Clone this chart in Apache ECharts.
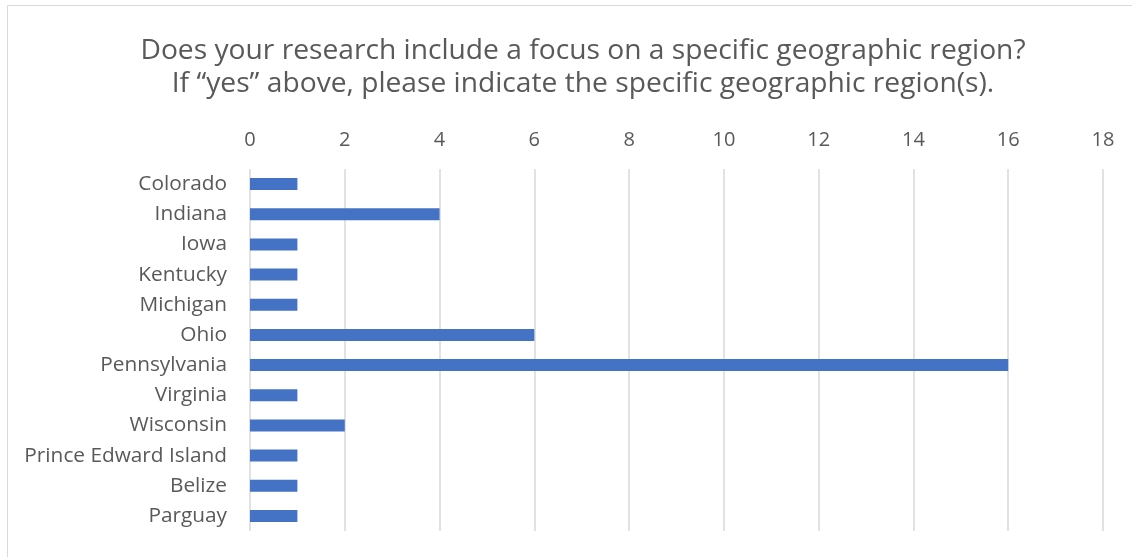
<!DOCTYPE html>
<html><head><meta charset="utf-8">
<script src="https://cdn.jsdelivr.net/npm/echarts@6/dist/echarts.min.js"></script>
<style>html,body{margin:0;padding:0;background:#fff}#c{width:1132px;height:557px}</style>
</head><body><div id="c"></div>
<script>
const titleLines = ["Does your research include a focus on a specific geographic region?", "If “yes” above, please indicate the specific geographic region(s)."];
const categories = ["Colorado","Indiana","Iowa","Kentucky","Michigan","Ohio","Pennsylvania","Virginia","Wisconsin","Prince Edward Island","Belize","Parguay"];
const values = [1,4,1,1,1,6,16,1,2,1,1,1];
const axisMin = 0, axisMax = 18, axisStep = 2;

const FONT = 'Open Sans';
const chart = echarts.init(document.getElementById('c'), null, {renderer:'canvas'});
chart.setOption({
  animation:false,
  backgroundColor:'#fff',
  graphic:[{type:'rect',shape:{x:7.5,y:5.5,width:1140,height:560},style:{fill:'none',stroke:'#d9d9d9',lineWidth:1},silent:true}],
  title:{
    text: titleLines.join('\n'),
    left:578, textAlign:'center', top:29,
    textStyle:{fontFamily:FONT,fontSize:28.2,fontWeight:'normal',color:'#595959',lineHeight:33}
  },
  grid:{left:250,right:29,top:169,bottom:26,containLabel:false},
  xAxis:{
    type:'value', position:'top', min:axisMin, max:axisMax, interval:axisStep,
    axisLine:{show:false}, axisTick:{show:false},
    axisLabel:{fontFamily:FONT,fontSize:20,color:'#595959',margin:19},
    splitLine:{lineStyle:{color:'#d9d9d9',width:1.5}}
  },
  yAxis:{
    type:'category', data:categories, inverse:true,
    axisLine:{show:false}, axisTick:{show:false},
    axisLabel:{fontFamily:FONT,fontSize:20.8,color:'#595959',margin:23}
  },
  series:[{type:'bar',data:values,barWidth:12,itemStyle:{color:'#4472c4'}}]
});
</script></body></html>
